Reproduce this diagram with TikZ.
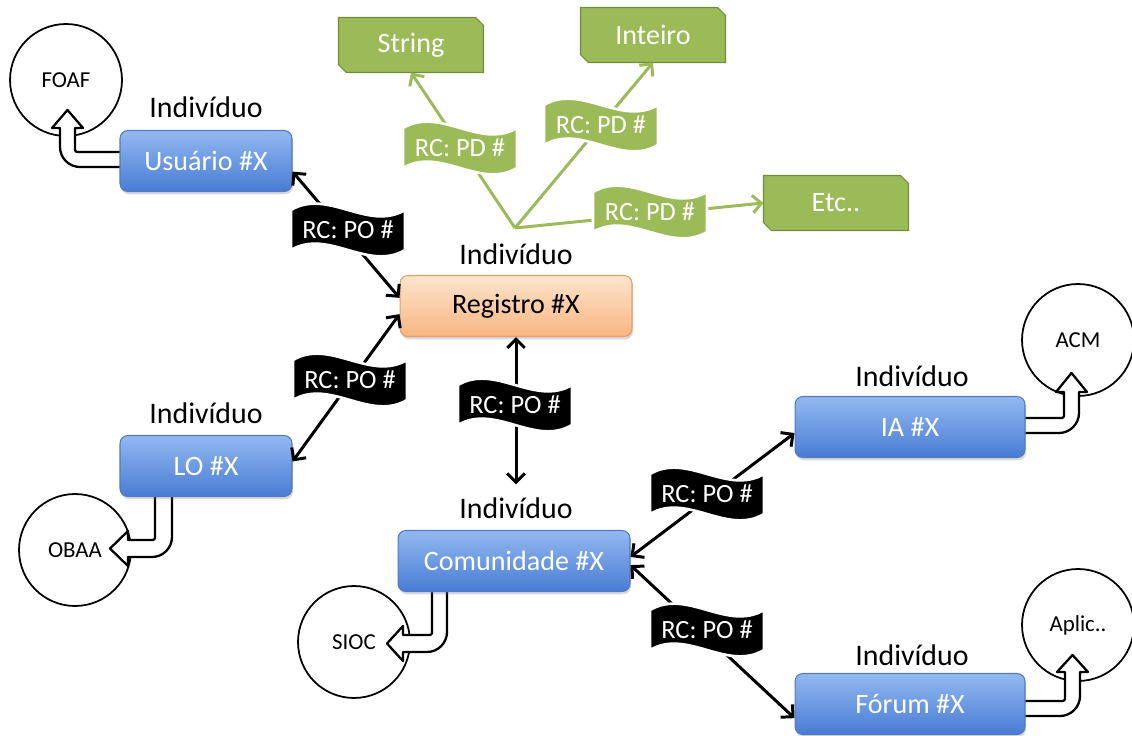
\documentclass[tikz,border=0pt]{standalone}
\usepackage{fontspec}
\setmainfont{Carlito}
\usetikzlibrary{arrows.meta, backgrounds, shadows}
\definecolor{blueA}{RGB}{146,184,240}
\definecolor{blueB}{RGB}{72,124,212}
\definecolor{blueL}{RGB}{84,122,188}
\definecolor{orangeA}{RGB}{253,228,206}
\definecolor{orangeB}{RGB}{248,182,128}
\definecolor{orangeL}{RGB}{226,160,108}
\definecolor{pdgreen}{RGB}{155,187,89}
\definecolor{pdgreenL}{RGB}{113,140,58}
\tikzset{
  bluebox/.style={rounded corners=4.5pt, draw=blueL, line width=0.6pt, top color=blueA, bottom color=blueB, text=white, minimum height=1.22cm, font=\fontsize{16}{18}\selectfont, drop shadow={opacity=0.3, shadow xshift=0.6pt, shadow yshift=-1.6pt}},
  regbox/.style={bluebox, draw=orangeL, top color=orangeA, bottom color=orangeB, text=black},
  pdbox/.style={outer sep=0pt, text=white, minimum width=2.9cm, minimum height=1.1cm, font=\fontsize{16}{18}\selectfont},
  pdfill/.style={fill=pdgreen, draw=pdgreenL, line width=0.6pt},
  onto/.style={circle, draw, line width=1pt, fill=white, minimum size=2.24cm, inner sep=0pt, font=\fontsize{13}{15}\selectfont},
  indiv/.style={font=\fontsize{17}{19}\selectfont},
  po/.style={{Straight Barb[length=5pt,width=10pt]}-{Straight Barb[length=5pt,width=10pt]}, line width=1.7pt},
  pd/.style={-{Straight Barb[length=5pt,width=10pt]}, draw=pdgreen, line width=1.7pt},
  bent/.style={draw, fill=white, line width=1.3pt, line join=round},
  flagtext/.style={text=white, font=\fontsize{15}{17}\selectfont}
}
\newcommand\rcflag[4]{%
\filldraw[fill=#3, draw=white, line width=1.5pt, shift={(#2)}] (-57,-20) .. controls (-20,-42) and (20,2) .. (57,-20) -- (57,20) .. controls (20,42) and (-20,-2) .. (-57,20) -- cycle;
\node (#1) at (#2) [flagtext] {#4};}

\begin{document}
\begin{tikzpicture}[x=0.02cm, y=-0.02cm]
\useasboundingbox (0,0) rectangle (1132,736);
\node (foaf) at (66,80) [onto] {FOAF};
\node (obaa) at (75,550) [onto] {OBAA};
\node (sioc) at (354,642) [onto] {SIOC};
\node (acm) at (1078,340) [onto] {ACM};
\node (aplic) at (1078,625) [onto] {Aplic..};
\draw[bent] (122,152) -- (80,152) .. controls (75,152) .. (75,147) -- (75,128) -- (83,128) -- (67.5,110) -- (52,128) -- (60,128) -- (60,147) .. controls (60,158) and (69,167) .. (80,167) -- (122,167) -- cycle;
\draw[bent] (155,495) -- (155,535) .. controls (155,540) .. (150,540) -- (128,540) -- (128,531) -- (110,548.5) -- (128,566) -- (128,557) -- (152,557) .. controls (163,557) and (172,548) .. (172,537) -- (172,495) -- cycle;
\draw[bent] (432,590) -- (432,630) .. controls (432,635) .. (427,635) -- (403,635) -- (403,626) -- (387,643.5) -- (403,661) -- (403,652) -- (427,652) .. controls (438,652) and (447,643) .. (447,632) -- (447,590) -- cycle;
\draw[bent] (1023,418) -- (1059,418) .. controls (1064,418) .. (1064,413) -- (1064,392) -- (1056,392) -- (1071.5,373) -- (1087,392) -- (1079,392) -- (1079,413) .. controls (1079,424) and (1070,433) .. (1059,433) -- (1023,433) -- cycle;
\draw[bent] (1023,701) -- (1060,701) .. controls (1065,701) .. (1065,696) -- (1065,672) -- (1057,672) -- (1072.5,655) -- (1088,672) -- (1080,672) -- (1080,696) .. controls (1080,707) and (1071,716) .. (1060,716) -- (1023,716) -- cycle;
\node (usuario) at (206,161) [bluebox, minimum width=3.44cm] {Usuário \#X};
\node (registro) at (516,306) [regbox, minimum width=4.64cm] {Registro \#X};
\node (lo) at (206,466) [bluebox, minimum width=3.44cm] {LO \#X};
\node (comunidade) at (514,561) [bluebox, minimum width=4.64cm] {Comunidade \#X};
\node (ia) at (910,427) [bluebox, minimum width=4.6cm] {IA \#X};
\node (forum) at (910,704) [bluebox, minimum width=4.6cm] {Fórum \#X};
\node (ind1) at (206,107) [indiv] {Indivíduo};
\node (ind2) at (516,254) [indiv] {Indivíduo};
\node (ind3) at (206,413) [indiv] {Indivíduo};
\node (ind4) at (516,508) [indiv] {Indivíduo};
\node (ind5) at (912,376) [indiv] {Indivíduo};
\node (ind6) at (912,655) [indiv] {Indivíduo};
\node (string) at (411,45) [pdbox] {String};
\node (inteiro) at (653,35) [pdbox] {Inteiro};
\node (etc) at (836,203) [pdbox] {Etc..};
\begin{scope}[on background layer]
\foreach \b in {string, inteiro, etc}
  \filldraw[pdfill] (\b.north west) -- ([xshift=-4.5pt]\b.north east) -- ([yshift=-4.5pt]\b.north east) -- (\b.south east) -- ([xshift=4.5pt]\b.south west) -- ([yshift=4.5pt]\b.south west) -- cycle;
\end{scope}
\coordinate (hub) at (515,228);
\draw[pd] (hub) -- (string.south);
\draw[pd] (hub) -- (inteiro.south);
\draw[pd] (hub) -- (etc.west);
\rcflag{pd1}{460,148}{pdgreen}{RC: PD \#}
\rcflag{pd2}{601,125}{pdgreen}{RC: PD \#}
\rcflag{pd3}{650,212}{pdgreen}{RC: PD \#}
\draw[po] (usuario.-7) -- (registro.176);
\draw[po] (registro.184) -- (lo.3);
\draw[po, shorten >=4pt] (registro.south) -- (ind4.north);
\draw[po] (comunidade.2) -- (ia.183);
\draw[po] (comunidade.-2) -- (forum.187);
\rcflag{po1}{348,230}{black}{RC: PO \#}
\rcflag{po2}{350,380}{black}{RC: PO \#}
\rcflag{po3}{515,405}{black}{RC: PO \#}
\rcflag{po4}{707,494}{black}{RC: PO \#}
\rcflag{po5}{707,630}{black}{RC: PO \#}
\end{tikzpicture}
\end{document}
